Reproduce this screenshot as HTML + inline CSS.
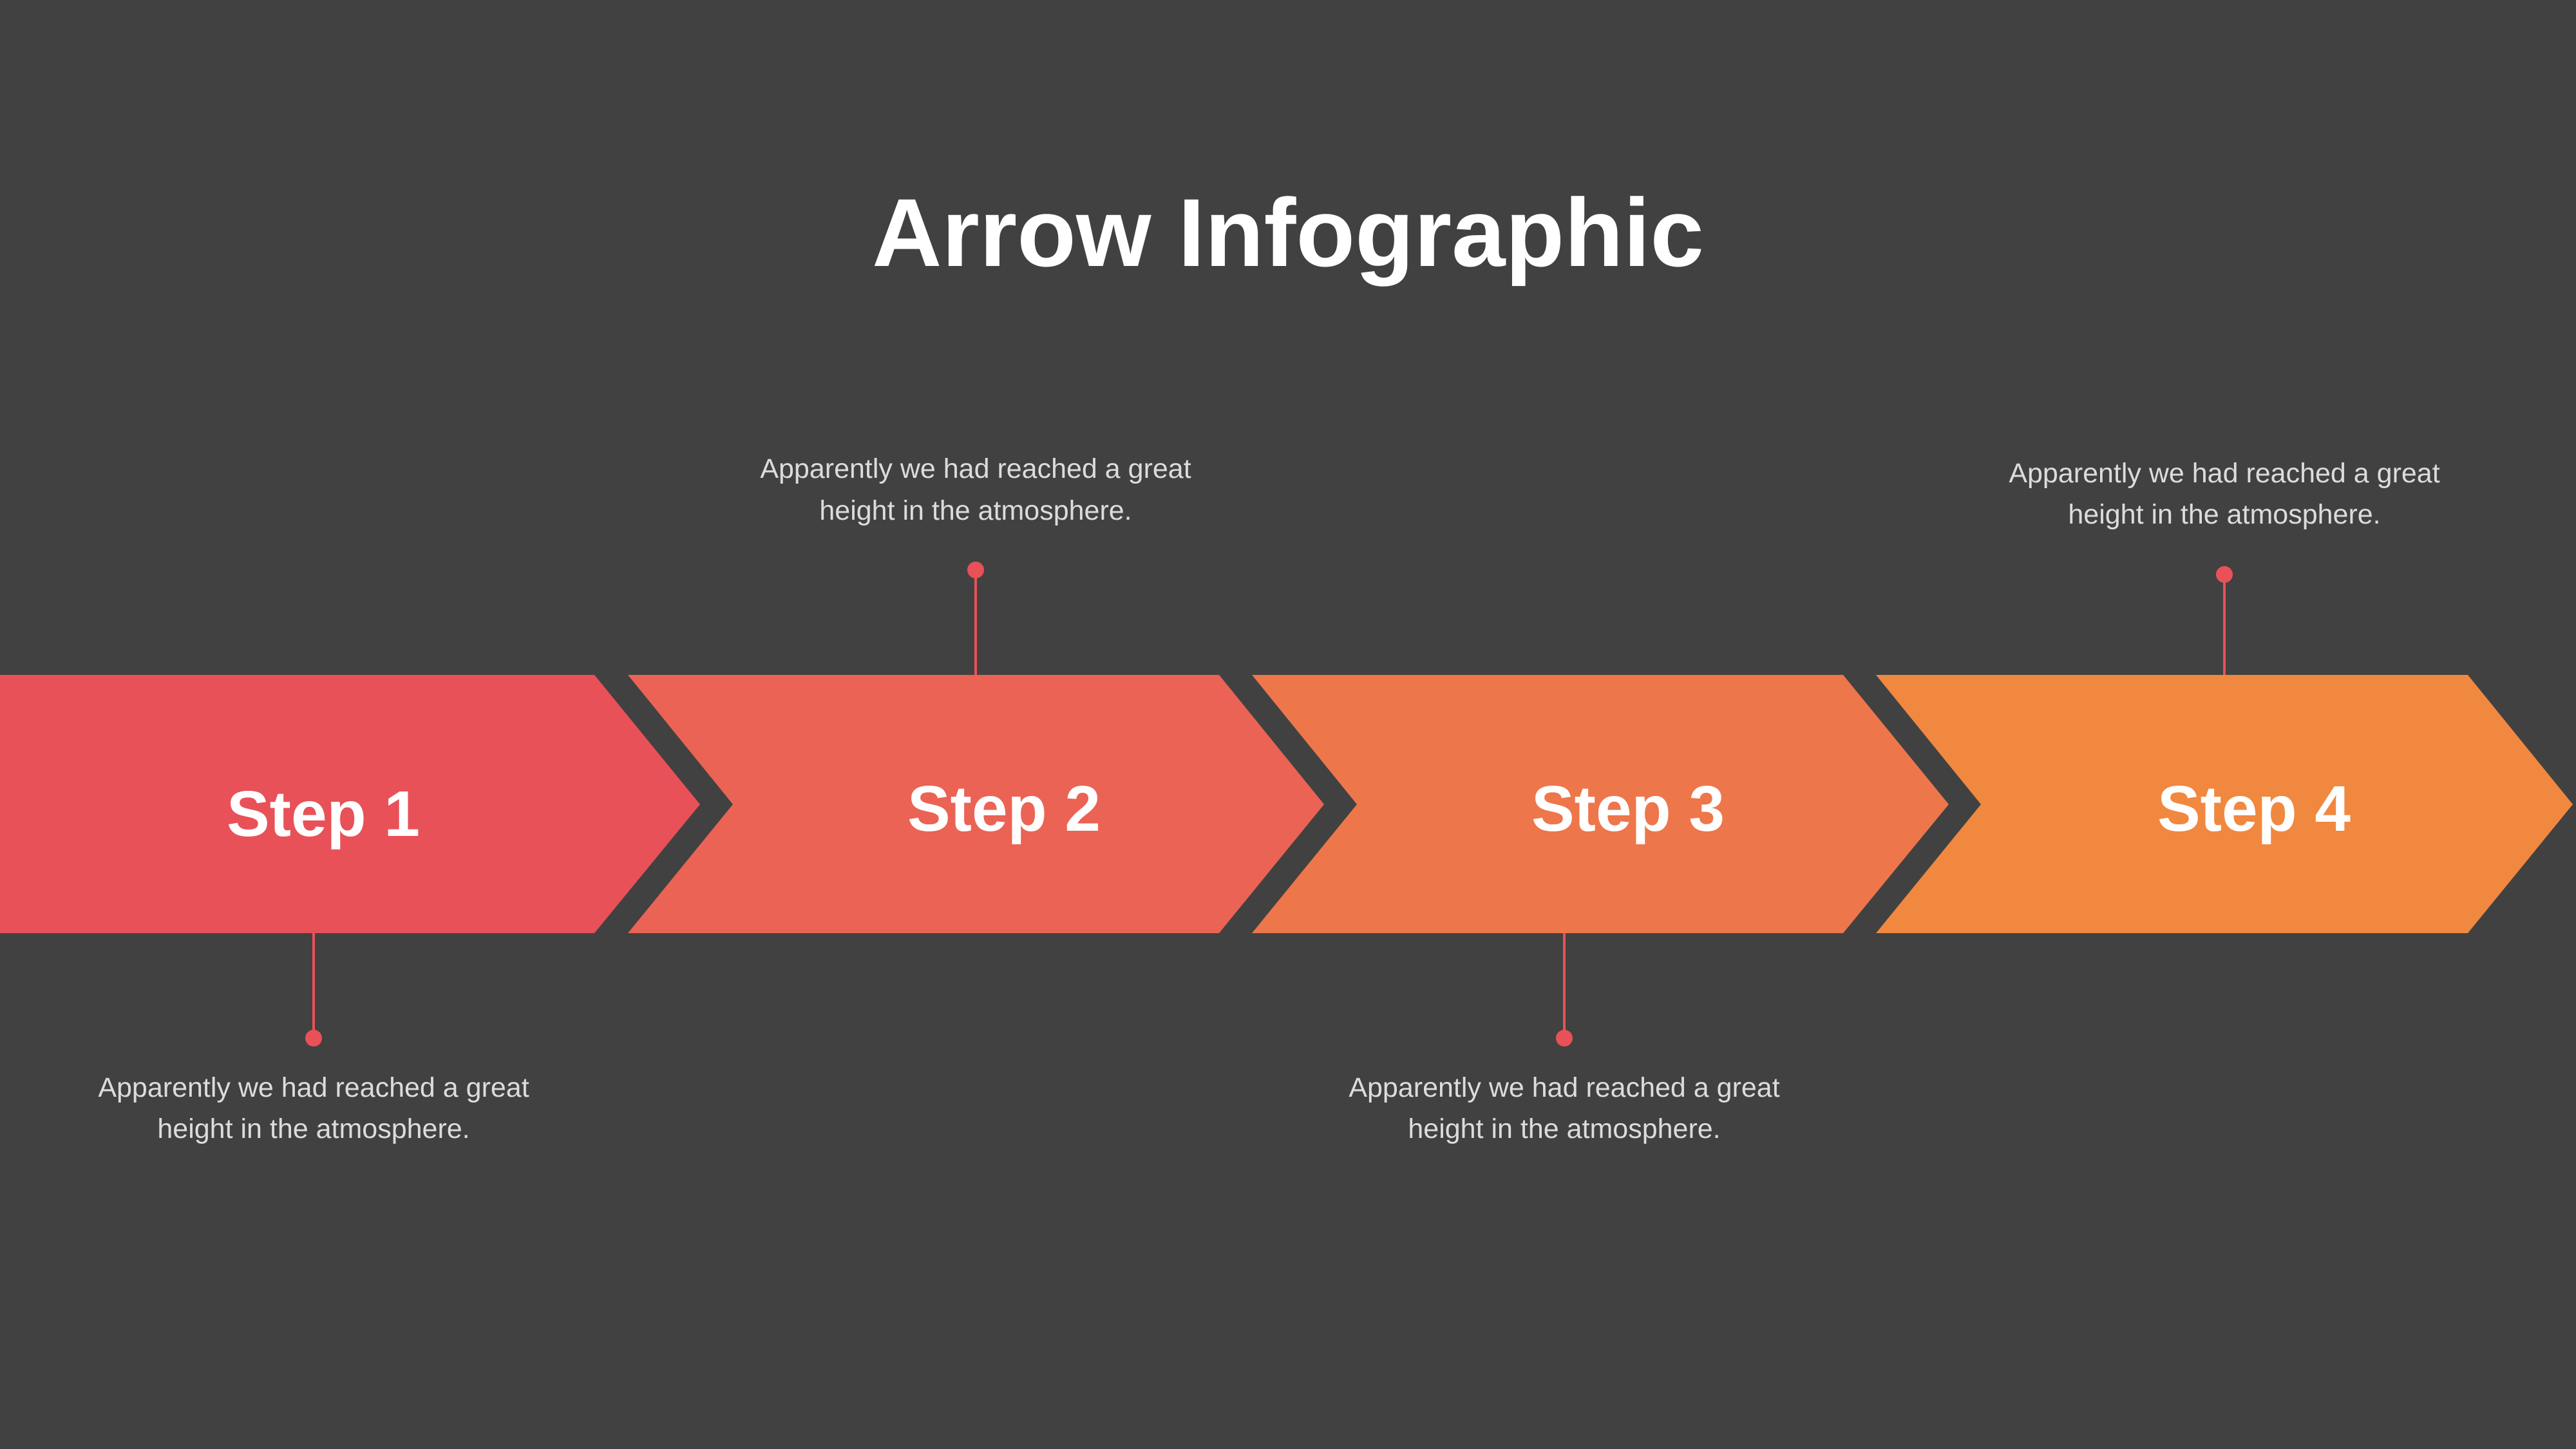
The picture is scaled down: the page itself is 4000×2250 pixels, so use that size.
<!DOCTYPE html>
<html><head><meta charset="utf-8"><style>
html,body{margin:0;padding:0;background:#414141;}
svg{display:block}
</style></head><body>
<svg width="4000" height="2250" viewBox="0 0 4000 2250" xmlns="http://www.w3.org/2000/svg">
<rect width="4000" height="2250" fill="#414141"/>
<text x="2000" y="413" text-anchor="middle" font-family="Liberation Sans, sans-serif" font-weight="bold" font-size="150" fill="#ffffff">Arrow Infographic</text>
<polygon points="0,1048 923,1048 1087,1249 923,1449 0,1449" fill="#E85158"/>
<polygon points="975,1048 1893,1048 2056,1249 1893,1449 975,1449 1138,1249" fill="#EB6354"/>
<polygon points="1944,1048 2862,1048 3026,1249 2862,1449 1944,1449 2107,1249" fill="#EE764B"/>
<polygon points="2913,1048 3832,1048 3995,1249 3832,1449 2913,1449 3076,1249" fill="#F18840"/>
<g font-family="Liberation Sans, sans-serif" font-weight="bold" font-size="100" fill="#ffffff" text-anchor="middle">
<text x="502" y="1298">Step 1</text>
<text x="1559" y="1290">Step 2</text>
<text x="2528" y="1290">Step 3</text>
<text x="3500" y="1290">Step 4</text>
</g>
<g stroke="#E85158" stroke-width="4">
<line x1="487" y1="1449" x2="487" y2="1612"/>
<line x1="1515" y1="885" x2="1515" y2="1048"/>
<line x1="2429" y1="1449" x2="2429" y2="1612"/>
<line x1="3454" y1="892" x2="3454" y2="1048"/>
</g>
<g fill="#E85158">
<circle cx="487" cy="1612" r="13"/>
<circle cx="1515" cy="885" r="13"/>
<circle cx="2429" cy="1612" r="13"/>
<circle cx="3454" cy="892" r="13"/>
</g>
<g font-family="Liberation Sans, sans-serif" font-size="43" fill="#dcdcdc" text-anchor="middle">
<text x="487" y="1703">Apparently we had reached a great</text>
<text x="487" y="1767">height in the atmosphere.</text>
<text x="1515" y="742">Apparently we had reached a great</text>
<text x="1515" y="807">height in the atmosphere.</text>
<text x="2429" y="1703">Apparently we had reached a great</text>
<text x="2429" y="1767">height in the atmosphere.</text>
<text x="3454" y="749">Apparently we had reached a great</text>
<text x="3454" y="813">height in the atmosphere.</text>
</g>
</svg>
</body></html>
